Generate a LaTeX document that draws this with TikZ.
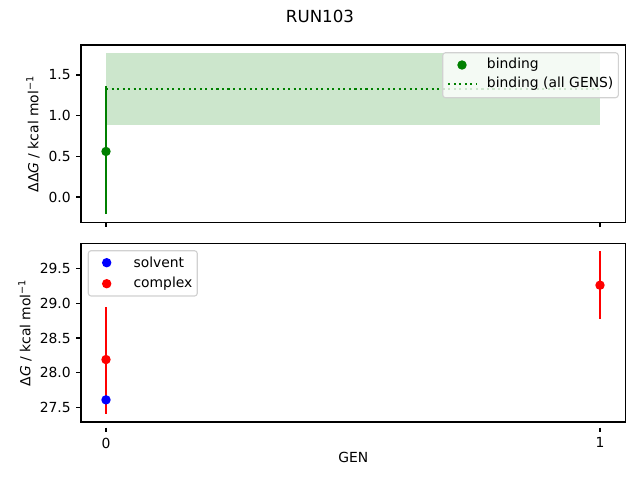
\documentclass[tikz,border=0pt]{standalone}
\usepackage{fontspec}
\setmainfont{DejaVu Sans}
\usepackage{tikz}
\usetikzlibrary{positioning}

\definecolor{mplgreen}{HTML}{008000}
\definecolor{mplblue}{HTML}{0000FF}
\definecolor{mplred}{HTML}{FF0000}
\definecolor{bandgreen}{HTML}{CCE6CC}

\begin{document}
\begin{tikzpicture}[x=0.72pt,y=-0.72pt,
  font=\fontsize{10}{12}\selectfont,
  frame/.style={line width=0.8pt},
  tick/.style={line width=0.8pt},
  ticklab/.style={inner sep=0pt},
  errbar/.style={line width=1.5pt},
  alldots/.style={line width=1.5pt, dash pattern=on 1.5pt off 2.475pt},
  dot/.style={circle, inner sep=0pt, minimum size=6.8pt},
  legbox/.style={draw=black!18, fill=white, fill opacity=0.8, rounded corners=2pt, line width=0.8pt},
  legtext/.style={anchor=west, inner sep=0pt}]
\useasboundingbox (0,0) rectangle (640,480);
\node (title) at (320,16) {\fontsize{12}{14}\selectfont RUN103};

% top panel: binding
\begin{scope}[shift={(106,197)}, x=355.68pt, y=58.56pt]
\fill[bandgreen] (0,0.88) rectangle (1,1.77);
\draw[mplgreen, alldots] (0,1.33)--(1,1.33);
\draw[mplgreen, errbar] (0,-0.21)--(0,1.36);
\node[dot, fill=mplgreen] (bind0) at (0,0.56) {};
\foreach \v in {0.0,0.5,1.0,1.5}
  \draw[tick] (-0.0506,\v)--++(-3.5pt,0) node[left=3.5pt, ticklab] (ytop\v) {\v};
\foreach \g in {0,1}
  \draw[tick] (\g,-0.3121)--++(0,-3.5pt);
\end{scope}
\draw[frame] (81,45) rectangle (625.7,222.7);
\draw[legbox] (442.7,52.7) rectangle (618.3,97.7);
\node[dot, fill=mplgreen] (legbind) at (462,65) {};
\node[legtext] (legbindtext) at (486.7,65) {binding};
\draw[mplgreen, alldots] (448.3,84)--(476,84);
\node[legtext] (legalltext) at (486.7,84) {binding (all GENS)};
\node[rotate=90] (ylabtop) at (33,134) {ΔΔ\textit{G} / kcal mol\textsuperscript{−1}};

% bottom panel: solvent and complex
\begin{scope}[shift={(106,2318.75)}, x=355.68pt, y=50.04pt]
\draw[mplred, errbar] (0,27.41)--(0,28.95);
\draw[mplred, errbar] (1,28.78)--(1,29.75);
\node[dot, fill=mplred] (complex0) at (0,28.19) {};
\node[dot, fill=mplred] (complex1) at (1,29.26) {};
\node[dot, fill=mplblue] (solvent0) at (0,27.61) {};
\foreach \v in {27.5,28.0,28.5,29.0,29.5}
  \draw[tick] (-0.0506,\v)--++(-3.5pt,0) node[left=3.5pt, ticklab] (ybot\v) {\v};
\foreach \g in {0,1}
  \draw[tick] (\g,27.2122)--++(0,-3.5pt) node[below=3.5pt, ticklab] (xgen\g) {\g};
\end{scope}
\draw[frame] (81,243.3) rectangle (625.7,422);
\draw[legbox] (88.3,250.7) rectangle (197.3,296);
\node[dot, fill=mplblue] (legsolv) at (106.7,262.7) {};
\node[legtext] (legsolvtext) at (133.3,262.7) {solvent};
\node[dot, fill=mplred] (legcomp) at (106.7,283.7) {};
\node[legtext] (legcomptext) at (133.3,283.7) {complex};
\node[rotate=90] (ylabbot) at (25,332.7) {Δ\textit{G} / kcal mol\textsuperscript{−1}};
\node (genlabel) at (353.4,457) {GEN};
\end{tikzpicture}
\end{document}
